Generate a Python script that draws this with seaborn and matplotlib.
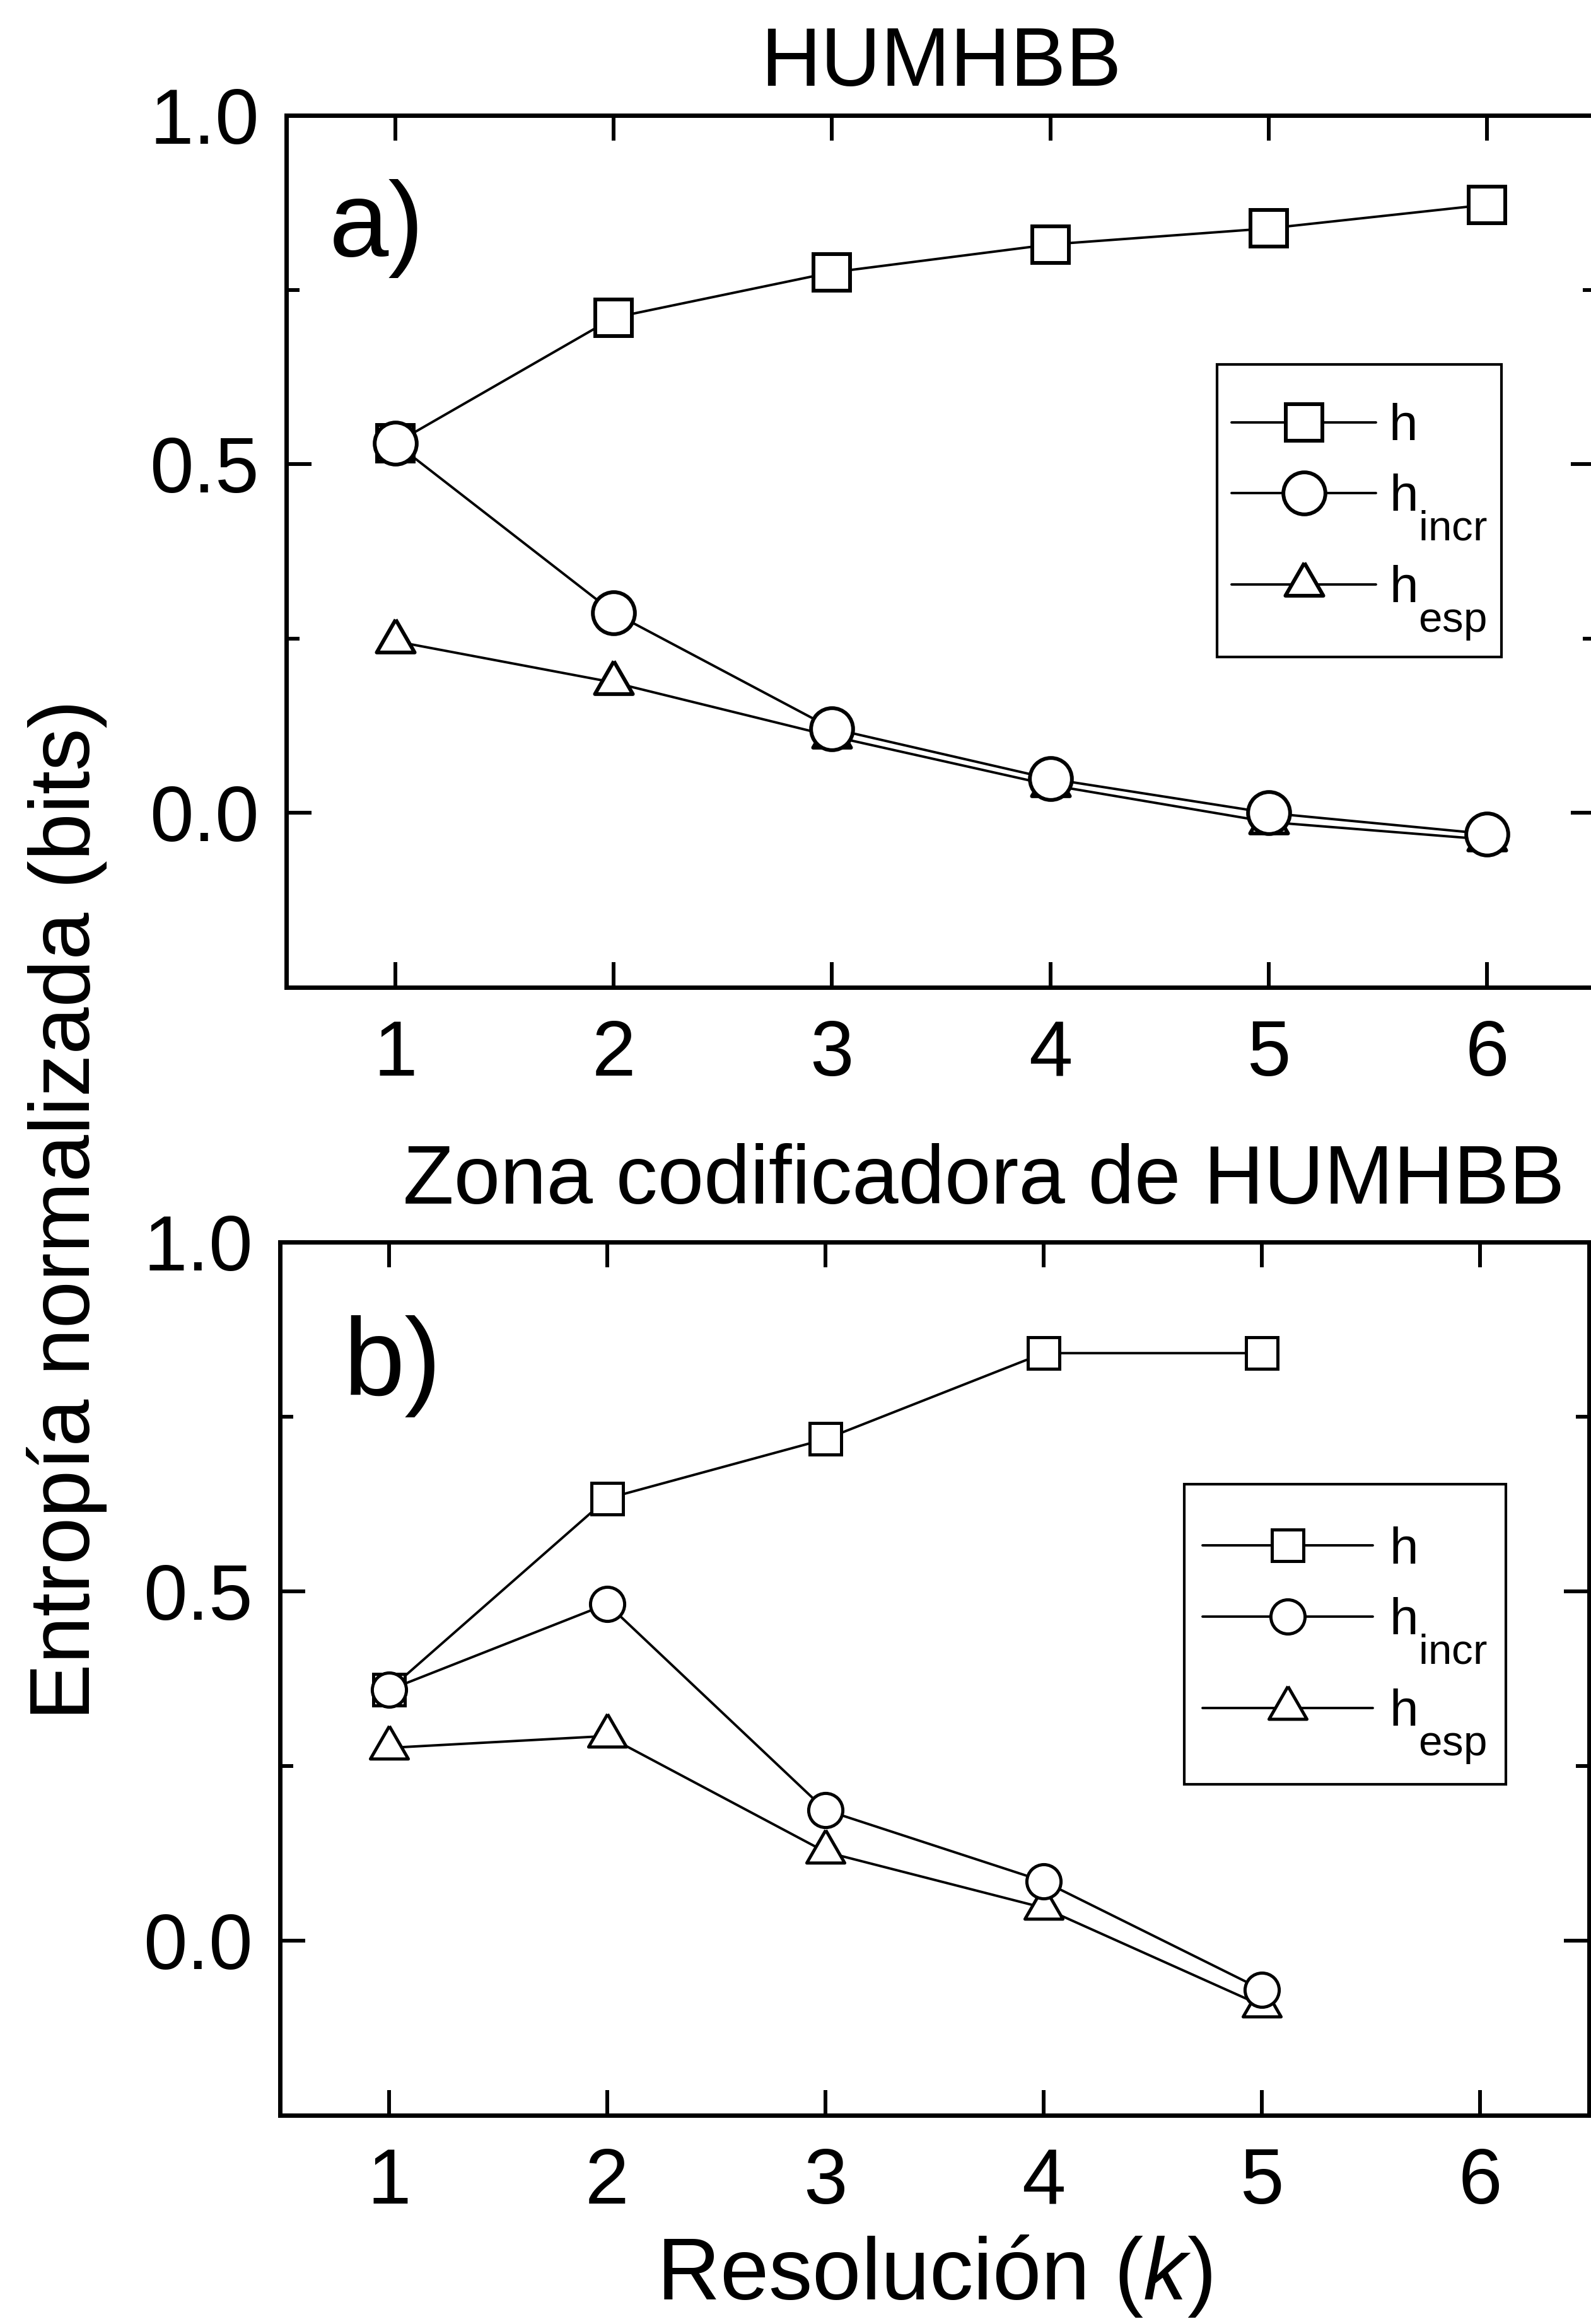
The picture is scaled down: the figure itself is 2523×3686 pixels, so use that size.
import matplotlib
matplotlib.use("Agg")
import matplotlib.pyplot as plt
import seaborn as sns
from matplotlib.ticker import MultipleLocator

# ---------------- data ----------------
k_a = [1, 2, 3, 4, 5, 6]
h_a = [0.53, 0.71, 0.775, 0.815, 0.838, 0.872]
hincr_a = [0.53, 0.287, 0.121, 0.049, 0.0, -0.03]
hesp_a = [0.246, 0.187, 0.110, 0.040, -0.013, -0.038]

k_b = [1, 2, 3, 4, 5]
h_b = [0.359, 0.633, 0.718, 0.841, 0.841]
hincr_b = [0.359, 0.482, 0.187, 0.085, -0.070]
hesp_b = [0.276, 0.293, 0.127, 0.047, -0.093]

xticks = [1, 2, 3, 4, 5, 6]
yticks = [0.0, 0.5, 1.0]
ytick_labels = ["0.0", "0.5", "1.0"]
series_labels = ["h", r"h$_{\mathregular{incr}}$", r"h$_{\mathregular{esp}}$"]
title_a = "HUMHBB"
title_b = "Zona codificadora de HUMHBB"
ylabel = "Entropía normalizada (bits)"
xlabel = r"Resolución ($k$)"

# ---------------- style ----------------
sns.set_theme(style="ticks")
plt.rcParams["font.family"] = ["Liberation Sans", "DejaVu Sans"]
plt.rcParams.update({
    "mathtext.fontset": "custom",
    "mathtext.rm": "Liberation Sans",
    "mathtext.it": "Liberation Sans:italic",
    "mathtext.bf": "Liberation Sans:bold",
    "mathtext.sf": "Liberation Sans",
    "text.color": "black",
    "axes.labelcolor": "black",
    "xtick.color": "black",
    "ytick.color": "black",
    "axes.edgecolor": "black",
})
try:
    import matplotlib._mathtext as _mt
    _mt.SHRINK_FACTOR = 0.82
    _mt.FontConstantsBase.sub1 = 1.1
except Exception:
    pass

tri = [(0, 0.5774), (-0.5, -0.2887), (0.5, -0.2887), (0, 0.5774)]

W, H = 2523, 3686
fig = plt.figure(figsize=(W / 100, H / 100), dpi=100)
ax_a = fig.add_axes([454 / W, 1 - 1566 / H, 2077 / W, 1383 / H])
ax_b = fig.add_axes([444 / W, 1 - 3355 / H, 2076 / W, 1385 / H])

LW = 2.8


def draw(ax, k, h, hi, he, ms_sq, ms_ci, ms_tr, mew):
    lines = {}
    specs = [("h", h, "s", ms_sq), ("esp", he, tri, ms_tr), ("incr", hi, "o", ms_ci)]
    for name, vals, m, ms in specs:
        sns.lineplot(x=k, y=vals, ax=ax, color="black", marker=m, markersize=ms,
                     markerfacecolor="white", markeredgecolor="black",
                     markeredgewidth=mew, linewidth=LW, legend=False,
                     errorbar=None)
        lines[name] = ax.lines[-1]
    return [lines["h"], lines["incr"], lines["esp"]]


hand_a = draw(ax_a, k_a, h_a, hincr_a, hesp_a, 42, 48, 50, 4.3)
hand_b = draw(ax_b, k_b, h_b, hincr_b, hesp_b, 36, 39, 50, 3.6)

for ax in (ax_a, ax_b):
    ax.set_xlim(0.5, 6.5)
    ax.set_ylim(-0.25, 1.0)
    ax.set_xticks(xticks)
    ax.set_xticklabels([str(v) for v in xticks])
    ax.set_yticks(yticks)
    ax.set_yticklabels(ytick_labels)
    ax.yaxis.set_minor_locator(MultipleLocator(0.25))
    ax.tick_params(which="both", direction="in", top=True, right=True,
                   width=4.3, color="black", labelsize=90, labelcolor="black")
    ax.tick_params(which="major", length=29)
    ax.tick_params(which="minor", length=15)
    ax.tick_params(axis="x", which="both", pad=36)
    ax.tick_params(axis="y", which="both", pad=31)
    for s in ax.spines.values():
        s.set_linewidth(5)
        s.set_color("black")
        s.set_visible(True)
    ax.set_xlabel("")
    ax.set_ylabel("")

ax_a.set_title(title_a, fontsize=95, pad=34)
ax_b.set_title(title_b, fontsize=95, pad=44, x=0.5376)

ax_a.text(0.0324, 0.839, "a)", transform=ax_a.transAxes, fontsize=122,
          ha="left", va="baseline")
ax_b.text(0.0487, 0.8250, "b)", transform=ax_b.transAxes, fontsize=126,
          ha="left", va="baseline")

leg_kw = dict(loc="upper left", fontsize=59, title=" ", title_fontsize=2.5,
              frameon=True, fancybox=False, shadow=False, framealpha=1,
              borderaxespad=0, labelspacing=0.42, numpoints=1)
leg_a = ax_a.legend(hand_a, series_labels, bbox_to_anchor=(0.7106, 0.7144),
                    borderpad=0.28, handlelength=2.8, handletextpad=0.25,
                    **leg_kw)
leg_b = ax_b.legend(hand_b, series_labels, bbox_to_anchor=(0.6908, 0.7227),
                    borderpad=0.35, handlelength=3.3, handletextpad=0.32,
                    **leg_kw)
for leg in (leg_a, leg_b):
    fr = leg.get_frame()
    fr.set_edgecolor("black")
    fr.set_linewidth(3)
    fr.set_facecolor("white")

fig.text(106 / W, 1 - 1919 / H, ylabel, rotation=90, ha="center", va="center",
         fontsize=97)
fig.text(1481 / W, 1 - 3647 / H, xlabel, ha="center", va="baseline",
         fontsize=100)

fig.savefig("out.png", dpi=100, facecolor="white")
